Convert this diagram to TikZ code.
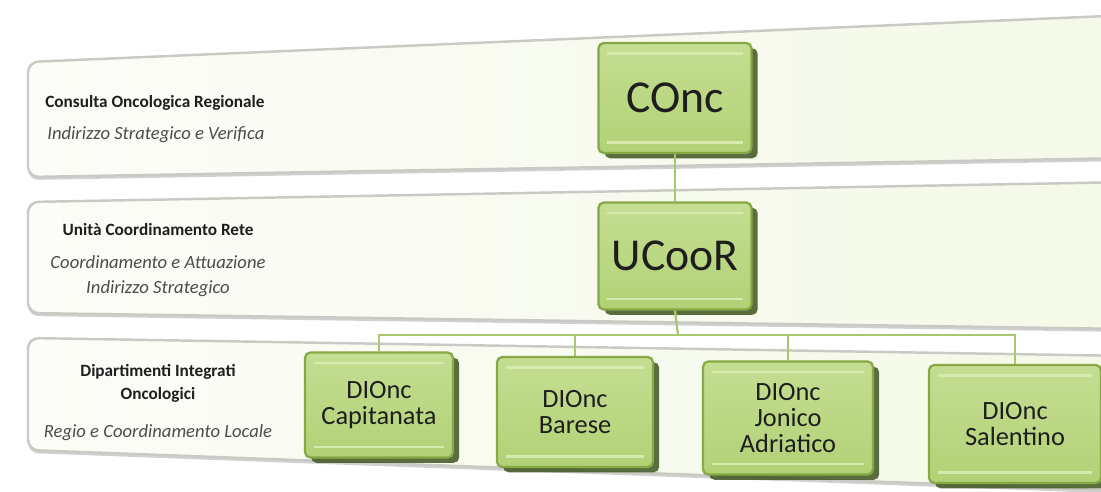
\documentclass[tikz,border=0pt]{standalone}
\usepackage{fontspec}
\setmainfont{Carlito}
\usetikzlibrary{shadows}
\definecolor{boxfill}{HTML}{B2D176}
\definecolor{boxtop}{HTML}{C4DE92}
\definecolor{boxedge}{HTML}{86A845}
\definecolor{boxlight}{HTML}{D6EAAE}
\definecolor{boxshadow}{HTML}{3F5520}
\definecolor{bandedge}{HTML}{C9CAC4}
\definecolor{bandleft}{HTML}{FCFCF8}
\definecolor{bandright}{HTML}{F4F9E7}
\definecolor{conncol}{HTML}{A8C76F}
\definecolor{txt}{HTML}{1E1E1E}
\tikzset{
  orgbox/.style={rounded corners=3pt, draw=boxedge, line width=1.3pt,
    top color=boxtop, bottom color=boxfill, inner sep=0pt, align=center, text=txt,
    drop shadow={shadow xshift=3.5pt, shadow yshift=-3pt, fill=boxshadow, opacity=0.85},
    path picture={
      \draw[boxlight, line width=1.4pt]
        ([xshift=5pt,yshift=-6pt]path picture bounding box.north west) --
        ([xshift=-5pt,yshift=-6pt]path picture bounding box.north east);
      \draw[boxlight, line width=1.4pt]
        ([xshift=5pt,yshift=6pt]path picture bounding box.south west) --
        ([xshift=-5pt,yshift=6pt]path picture bounding box.south east);
    }},
  band/.style={rounded corners=6pt, draw=bandedge, line width=1.4pt,
    left color=bandleft, right color=bandright},
  bandshadow/.style={rounded corners=6pt, fill=black!18},
  conn/.style={draw=conncol, line width=1.3pt},
  lbold/.style={font=\fontsize{9.8}{12}\selectfont\bfseries, text=txt, inner sep=0pt},
  lital/.style={font=\fontsize{10.6}{14}\selectfont\itshape, text=black!70, inner sep=0pt},
}
\begin{document}
\begin{tikzpicture}[x=0.02cm,y=-0.02cm]
\useasboundingbox (0,0) rectangle (1101,491);
\clip (0,0) rectangle (1101,491);
\fill[white] (0,0) rectangle (1101,491);

% bands
\fill[bandshadow] (28,65) -- (1130,18) -- (1130,161) -- (28,180) -- cycle;
\draw[band] (28,62) -- (1130,15) -- (1130,158) -- (28,177) -- cycle;
\fill[bandshadow] (28,205) -- (1130,185) -- (1130,332) -- (28,316) -- cycle;
\draw[band] (28,202) -- (1130,182) -- (1130,329) -- (28,313) -- cycle;
\fill[bandshadow] (28,341) -- (1130,359) -- (1130,494) -- (28,453) -- cycle;
\draw[band] (28,338) -- (1130,356) -- (1130,491) -- (28,450) -- cycle;

% left labels
\node[lbold, anchor=west] (t1a) at (45,103) {Consulta Oncologica Regionale};
\node[lital, anchor=west] (t1b) at (47,135) {Indirizzo Strategico e Verifica};

\node[lbold] (t2a) at (158,230) {Unità Coordinamento Rete};
\node[lital, align=center] (t2b) at (158,276) {Coordinamento e Attuazione\\Indirizzo Strategico};

\node[lbold, align=center, font=\fontsize{9.8}{13}\selectfont\bfseries] (t3a) at (158,383) {Dipartimenti Integrati\\Oncologici};
\node[lital] (t3b) at (158,433) {Regio e Coordinamento Locale};

% boxes
\node[orgbox, minimum width=3.06cm, minimum height=2.2cm, font=\fontsize{26}{28}\selectfont] (conc) at (675,98) {COnc};
\node[orgbox, minimum width=3.06cm, minimum height=2.14cm, font=\fontsize{26}{28}\selectfont] (ucoor) at (675,256) {UCooR};

\tikzset{dbox/.style={orgbox, font=\fontsize{15}{14.8}\selectfont}}
\node[dbox, minimum width=2.96cm, minimum height=2.1cm] (cap) at (379,405) {DIOnc\\Capitanata};
\node[dbox, minimum width=3.12cm, minimum height=2.2cm] (bar) at (575,412) {DIOnc\\Barese};
\node[dbox, minimum width=3.4cm, minimum height=2.26cm] (jon) at (788,418) {DIOnc\\Jonico\\Adriatico};
\node[dbox, minimum width=3.44cm, minimum height=2.36cm] (sal) at (1015,424) {DIOnc\\Salentino};

% connectors
\coordinate (bus) at (678,335);
\draw[conn] (conc.south) -- (ucoor.north);
\draw[conn] (ucoor.south) -- (bus);
\draw[conn] (cap.north) -- (cap.north |- bus) -- (sal.north |- bus) -- (sal.north);
\draw[conn] (bar.north) -- (bar.north |- bus);
\draw[conn] (jon.north) -- (jon.north |- bus);
\end{tikzpicture}
\end{document}
